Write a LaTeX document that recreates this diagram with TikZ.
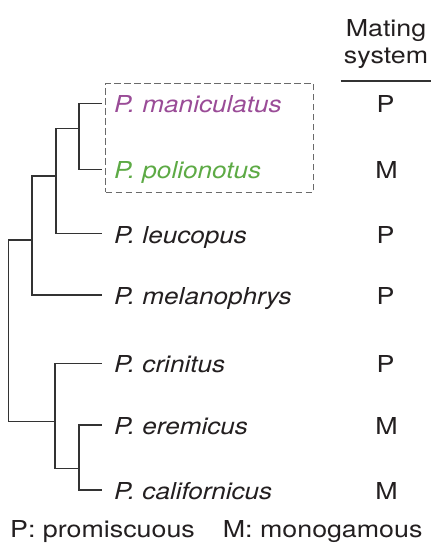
\documentclass[tikz,border=0pt]{standalone}
\usepackage{fontspec}
\setmainfont{TeX Gyre Heros}
\newfontfamily\upfont{TeX Gyre Heros}[FakeStretch=1.15]
\newfontfamily\spfont{TeX Gyre Heros}[FakeStretch=1.12]
\definecolor{txt}{HTML}{231F20}
\definecolor{tree}{HTML}{333333}
\definecolor{mani}{HTML}{9A4C97}
\definecolor{poli}{HTML}{5DAA45}
\definecolor{boxc}{HTML}{6A6A6A}
\begin{document}
\begin{tikzpicture}[x=1bp,y=-1bp,
  species/.style={anchor=base west,inner sep=0pt,font=\fontsize{23.4}{26}\spfont\itshape,text=txt},
  mating/.style={anchor=base,inner sep=0pt,font=\fontsize{23.4}{26}\upfont,text=txt},
  branch/.style={draw=tree,line width=1.5bp},
  group/.style={draw=boxc,line width=1.4bp,dash pattern=on 6.5bp off 3.5bp}]
\useasboundingbox (0,0) rectangle (444,554);
% tips
\coordinate (t1) at (101.7,103.3);
\coordinate (t2) at (101.7,169.3);
\coordinate (t3) at (101.7,233.3);
\coordinate (t4) at (101.7,295);
\coordinate (t5) at (101.7,363.3);
\coordinate (t6) at (101.7,425);
\coordinate (t7) at (101.7,490);
% internal nodes
\coordinate (a) at (79,128.3);
\coordinate (b) at (56,176);
\coordinate (c) at (32,240);
\coordinate (r) at (8.3,421.7);
\coordinate (d) at (55,421.7);
\coordinate (e) at (79,468.3);
\draw[branch] (t1) -| (a) |- (t2);
\draw[branch] (a) -| (b) |- (t3);
\draw[branch] (b) -| (c) |- (t4);
\draw[branch] (c) -| (r) -- (d);
\draw[branch] (t5) -| (d) |- (e);
\draw[branch] (t6) -| (e) |- (t7);
% group box
\node[group,minimum width=208bp,minimum height=109bp,anchor=north west,inner sep=0pt] (grp) at (105,82.7) {};
% species labels
\node[species,text=mani] (s1) at (114,113) {P. maniculatus};
\node[species,text=poli] (s2) at (114,179) {P. polionotus};
\node[species] (s3) at (114,243) {P. leucopus};
\node[species] (s4) at (114,304.5) {P. melanophrys};
\node[species] (s5) at (114,372.5) {P. crinitus};
\node[species] (s6) at (114,434.3) {P. eremicus};
\node[species] (s7) at (114,499) {P. californicus};
% header
\node[mating] (h1) at (386,36.7) {Mating};
\node[mating] (h2) at (386,63.5) {system};
\coordinate (l1) at (340.7,81);
\coordinate (l2) at (431,81);
\draw[draw=tree,line width=1.8bp] (l1) -- (l2);
% mating systems
\node[mating] (m1) at (385.5,113) {P};
\node[mating] (m2) at (386.5,179) {M};
\node[mating] (m3) at (385.5,243) {P};
\node[mating] (m4) at (385.5,304.5) {P};
\node[mating] (m5) at (385.5,372.5) {P};
\node[mating] (m6) at (386.5,434.3) {M};
\node[mating] (m7) at (386.5,499) {M};
% legend
\node[mating,anchor=base west] (leg1) at (10,537.3) {P: promiscuous};
\node[mating,anchor=base west] (leg2) at (222.7,537.3) {M: monogamous};
\end{tikzpicture}
\end{document}
